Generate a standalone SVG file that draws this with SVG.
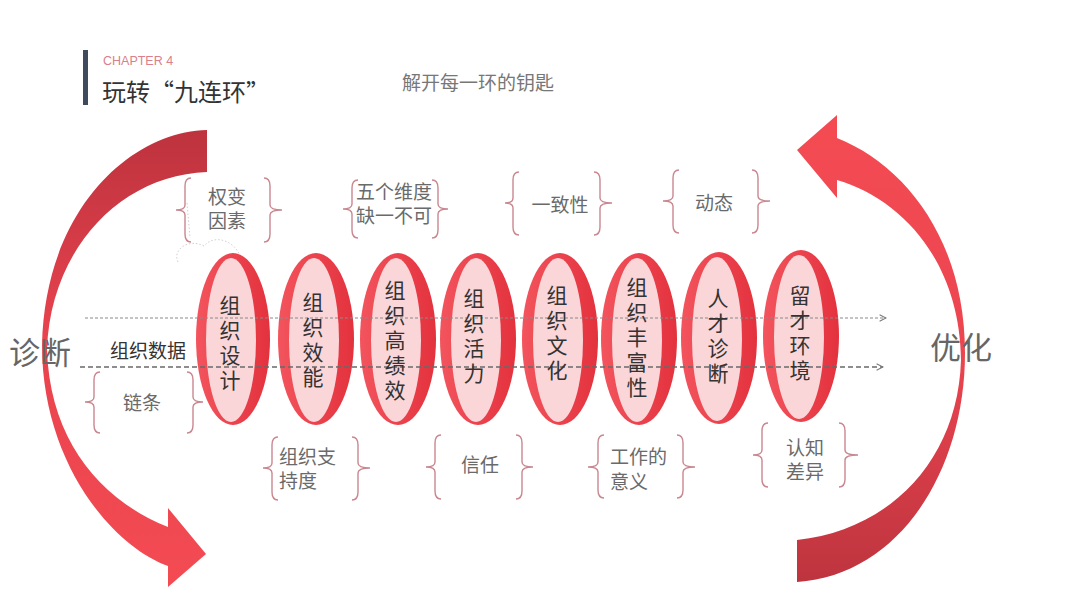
<svg xmlns="http://www.w3.org/2000/svg" width="1080" height="608" viewBox="0 0 1080 608">
<defs>
<linearGradient id="gl" gradientUnits="userSpaceOnUse" x1="0" y1="130" x2="0" y2="590">
<stop offset="0" stop-color="#bd333e"/>
<stop offset="0.45" stop-color="#e8434e"/>
<stop offset="1" stop-color="#f44b53"/>
</linearGradient>
<linearGradient id="gr" gradientUnits="userSpaceOnUse" x1="0" y1="115" x2="0" y2="585">
<stop offset="0" stop-color="#f44b53"/>
<stop offset="0.5" stop-color="#ec4550"/>
<stop offset="1" stop-color="#bd343e"/>
</linearGradient>
<linearGradient id="ge" x1="0" y1="0" x2="1" y2="0">
<stop offset="0" stop-color="#f3545d"/>
<stop offset="1" stop-color="#e3323e"/>
</linearGradient>
<marker id="chev" viewBox="0 0 10 10" refX="9" refY="5" markerWidth="8" markerHeight="8" markerUnits="userSpaceOnUse" orient="auto">
<path d="M1,1 L9,5 L1,9" fill="none" stroke="#777" stroke-width="1.3"/>
</marker>
<style>
.t{font-family:"Noto Sans CJK SC","Noto Sans",sans-serif;dominant-baseline:central}
.c{font-family:"Liberation Sans","Noto Sans CJK SC",sans-serif;dominant-baseline:central}
.lbl{font-size:19px;fill:#6a6a6a}
.ring{font-size:21px;fill:#333;text-anchor:middle}
.br{fill:none;stroke:#c98790;stroke-width:1.4}
.outer{fill:url(#ge)}
.inner{fill:#fbd6d8}
.mid{text-anchor:middle}
</style>
</defs>
<rect width="1080" height="608" fill="#fff"/>

<g id="title">
<rect x="83" y="50" width="5" height="55" fill="#3f4a5c"/>
<text x="103" y="61" class="t" style="font-family:'Liberation Sans',sans-serif;font-size:12.5px;fill:#d9808a">CHAPTER 4</text>
<text x="102" y="90" class="t" style="font-size:24px;fill:#333">玩转“九连环”</text>
<text x="478" y="81" class="t mid" style="font-size:19px;fill:#777">解开每一环的钥匙</text>
</g>

<g id="arrow-left">
<path d="M207,130 C130,132 45,210 42,345 C42,460 110,545 168,566 L168,587 L206,554 L168,508 L168,527 C100,500 50,440 47,350 C50,250 120,175 207,172 Z" fill="url(#gl)"/>
</g>
<g id="arrow-right">
<path d="M837,138 C905,165 965,240 965,353 C965,470 900,575 797,582 L797,540 C890,530 958,460 961,360 C960,265 905,200 837,180 L837,198 L797,150 L837,115 Z" fill="url(#gr)"/>
</g>

<path d="M178,262 C172,250 188,238 204,246 C214,234 234,240 240,256 M187,203 L190,238" fill="none" stroke="#cfcfcf" stroke-width="1" stroke-dasharray="1.5 2"/>

<g id="ring1"><ellipse cx="233" cy="339" rx="37" ry="86" class="outer"/><ellipse cx="231" cy="340" rx="25" ry="82" class="inner"/></g>
<g id="ring2"><ellipse cx="316" cy="339" rx="38" ry="86" class="outer"/><ellipse cx="314" cy="340" rx="25" ry="82" class="inner"/></g>
<g id="ring3"><ellipse cx="398" cy="339" rx="38" ry="86" class="outer"/><ellipse cx="396" cy="340" rx="25" ry="82" class="inner"/></g>
<g id="ring4"><ellipse cx="478" cy="339" rx="38" ry="86" class="outer"/><ellipse cx="476" cy="340" rx="25" ry="82" class="inner"/></g>
<g id="ring5"><ellipse cx="560" cy="339" rx="38" ry="86" class="outer"/><ellipse cx="558" cy="340" rx="25" ry="82" class="inner"/></g>
<g id="ring6"><ellipse cx="639" cy="339" rx="38" ry="86" class="outer"/><ellipse cx="637" cy="340" rx="25" ry="82" class="inner"/></g>
<g id="ring7"><ellipse cx="719" cy="338" rx="38" ry="86" class="outer"/><ellipse cx="717" cy="339" rx="25" ry="82" class="inner"/></g>
<g id="ring8"><ellipse cx="801" cy="336" rx="38" ry="86" class="outer"/><ellipse cx="799" cy="337" rx="25" ry="82" class="inner"/></g>

<g id="connectors">
<line x1="85" y1="318" x2="886" y2="318" stroke="#8a8a8a" stroke-width="1.2" stroke-dasharray="3 2" marker-end="url(#chev)"/>
<line x1="80" y1="367" x2="883" y2="367" stroke="#6a6a6a" stroke-width="1.5" stroke-dasharray="5 3" marker-end="url(#chev)"/>
</g>

<g id="ring-labels">
<text class="c ring"><tspan x="230" y="305">组</tspan><tspan x="230" y="330">织</tspan><tspan x="230" y="355">设</tspan><tspan x="230" y="380">计</tspan></text>
<text class="c ring"><tspan x="313" y="302">组</tspan><tspan x="313" y="327">织</tspan><tspan x="313" y="352">效</tspan><tspan x="313" y="377">能</tspan></text>
<text class="c ring"><tspan x="395" y="290">组</tspan><tspan x="395" y="315">织</tspan><tspan x="395" y="340">高</tspan><tspan x="395" y="365">绩</tspan><tspan x="395" y="390">效</tspan></text>
<text class="c ring"><tspan x="474" y="298">组</tspan><tspan x="474" y="323">织</tspan><tspan x="474" y="348">活</tspan><tspan x="474" y="373">力</tspan></text>
<text class="c ring"><tspan x="557" y="295">组</tspan><tspan x="557" y="320">织</tspan><tspan x="557" y="345">文</tspan><tspan x="557" y="370">化</tspan></text>
<text class="c ring"><tspan x="637" y="287">组</tspan><tspan x="637" y="312">织</tspan><tspan x="637" y="337">丰</tspan><tspan x="637" y="362">富</tspan><tspan x="637" y="387">性</tspan></text>
<text class="c ring"><tspan x="718" y="298">人</tspan><tspan x="718" y="323">才</tspan><tspan x="718" y="348">诊</tspan><tspan x="718" y="373">断</tspan></text>
<text class="c ring"><tspan x="800" y="295">留</tspan><tspan x="800" y="320">才</tspan><tspan x="800" y="345">环</tspan><tspan x="800" y="370">境</tspan></text>
</g>

<g id="side-labels">
<text x="40" y="350" class="t mid" style="font-size:31px;fill:#666">诊断</text>
<text x="961" y="345" class="t mid" style="font-size:31px;fill:#666">优化</text>
<text x="148" y="349" class="t mid" style="font-size:19px;fill:#333">组织数据</text>
</g>

<g id="note-quanbian">
<path class="br" d="M191,178 Q185,178 185,186 L185,205 Q185,210 176,210 Q185,210 185,215 L185,234 Q185,242 191,242"/>
<path class="br" d="M264,178 Q270,178 270,186 L270,205 Q270,210 282,210 Q270,210 270,215 L270,234 Q270,242 264,242"/>
<text class="c lbl mid"><tspan x="227" y="197">权变</tspan><tspan x="227" y="221">因素</tspan></text>
</g>
<g id="note-wuge">
<path class="br" d="M358,180 Q352,180 352,188 L352,204 Q352,209 343,209 Q352,209 352,214 L352,230 Q352,238 358,238"/>
<path class="br" d="M432,180 Q438,180 438,188 L438,204 Q438,209 448,209 Q438,209 438,214 L438,230 Q438,238 432,238"/>
<text class="c lbl mid"><tspan x="394" y="192">五个维度</tspan><tspan x="394" y="216">缺一不可</tspan></text>
</g>
<g id="note-yizhi">
<path class="br" d="M519,172 Q513,172 513,180 L513,198 Q513,203 505,203 Q513,203 513,208 L513,227 Q513,235 519,235"/>
<path class="br" d="M594,172 Q600,172 600,180 L600,198 Q600,203 612,203 Q600,203 600,208 L600,227 Q600,235 594,235"/>
<text x="560" y="205" class="c lbl mid">一致性</text>
</g>
<g id="note-dongtai">
<path class="br" d="M679,170 Q673,170 673,178 L673,196 Q673,201 663,201 Q673,201 673,206 L673,225 Q673,233 679,233"/>
<path class="br" d="M752,170 Q758,170 758,178 L758,196 Q758,201 770,201 Q758,201 758,206 L758,225 Q758,233 752,233"/>
<text x="714" y="203" class="c lbl mid">动态</text>
</g>
<g id="note-lian">
<path class="br" d="M100,372 Q94,372 94,380 L94,397 Q94,402 85,402 Q94,402 94,407 L94,425 Q94,433 100,433"/>
<path class="br" d="M187,372 Q193,372 193,380 L193,397 Q193,402 203,402 Q193,402 193,407 L193,425 Q193,433 187,433"/>
<text x="142" y="403" class="c lbl mid">链条</text>
</g>
<g id="note-zhichi">
<path class="br" d="M278,437 Q272,437 272,445 L272,463 Q272,468 263,468 Q272,468 272,473 L272,492 Q272,500 278,500"/>
<path class="br" d="M352,437 Q358,437 358,445 L358,463 Q358,468 370,468 Q358,468 358,473 L358,492 Q358,500 352,500"/>
<text class="c lbl"><tspan x="279" y="457">组织支</tspan><tspan x="279" y="481">持度</tspan></text>
</g>
<g id="note-xinren">
<path class="br" d="M441,435 Q435,435 435,443 L435,462 Q435,467 426,467 Q435,467 435,472 L435,491 Q435,499 441,499"/>
<path class="br" d="M516,435 Q522,435 522,443 L522,462 Q522,467 533,467 Q522,467 522,472 L522,491 Q522,499 516,499"/>
<text x="480" y="465" class="c lbl mid">信任</text>
</g>
<g id="note-yiyi">
<path class="br" d="M604,435 Q598,435 598,443 L598,462 Q598,467 588,467 Q598,467 598,472 L598,490 Q598,498 604,498"/>
<path class="br" d="M677,435 Q683,435 683,443 L683,462 Q683,467 695,467 Q683,467 683,472 L683,490 Q683,498 677,498"/>
<text class="c lbl"><tspan x="610" y="457">工作的</tspan><tspan x="610" y="482">意义</tspan></text>
</g>
<g id="note-renzhi">
<path class="br" d="M768,423 Q762,423 762,431 L762,450 Q762,455 753,455 Q762,455 762,460 L762,479 Q762,487 768,487"/>
<path class="br" d="M839,423 Q845,423 845,431 L845,450 Q845,455 858,455 Q845,455 845,460 L845,479 Q845,487 839,487"/>
<text class="c lbl mid"><tspan x="805" y="448">认知</tspan><tspan x="805" y="472">差异</tspan></text>
</g>
</svg>
